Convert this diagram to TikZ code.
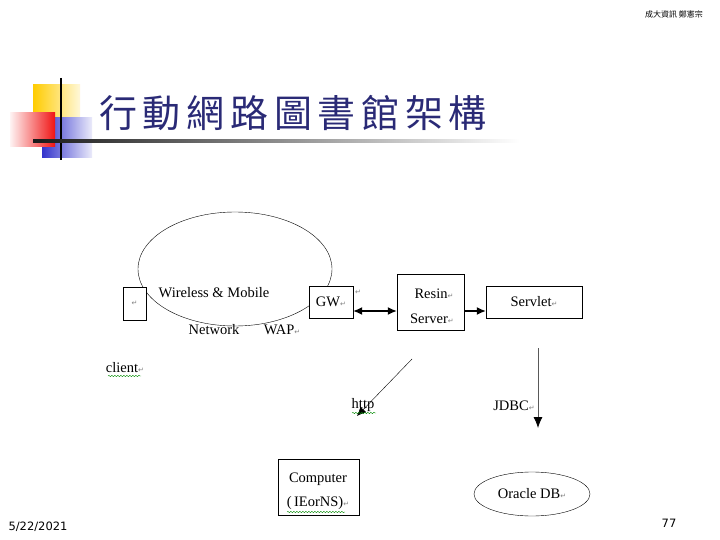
\documentclass[tikz,border=0pt]{standalone}
\usepackage{fontspec}
\usepackage{xcolor}
\setmainfont{Liberation Serif}
\newfontfamily\cjk{Noto Sans CJK TC}
\newfontfamily\cjktitle[LetterSpace=15]{Noto Sans CJK TC}
\newfontfamily\djv{DejaVu Sans}
\usetikzlibrary{positioning,shapes,arrows,arrows.meta,decorations.pathmorphing}
\definecolor{titleblue}{RGB}{42,42,118}
\definecolor{ylw}{RGB}{255,204,0}
\definecolor{blu}{RGB}{51,51,204}
\definecolor{rd}{RGB}{240,20,20}
\newcommand{\ret}{{\djv\fontsize{7}{7}\selectfont\textcolor{gray}{↵}}}

\begin{document}
\begin{tikzpicture}[x=1pt,y=-1pt,
    box/.style={draw,fill=white,inner sep=0},
    txt/.style={font=\fontsize{14.5}{16}\selectfont,inner sep=0},
    head/.style={-{Latex[length=9pt,width=8pt]}},
    wavy/.style={draw=green!55!black,decorate,decoration={snake,amplitude=0.7pt,segment length=3pt}}]
    \useasboundingbox[fill=white] (0,0) rectangle (720,540);

    % Slide decoration
    \shade[left color=ylw,right color=ylw!15] (33,85) rectangle (80,118);
    \shade[left color=blu,right color=blu!10] (42,118) rectangle (92,158);
    \shade[left color=rd!5,right color=rd] (10,113) rectangle (55,147);
    \draw[line width=2.5pt] (61,78) -- (61,160);
    \shade[left color=black!90,right color=white] (33,139.8) rectangle (520,142.2);
    \node[anchor=west,inner sep=0,text=titleblue,font=\cjktitle\fontsize{38}{40}\selectfont] (title) at (99,113) {行動網路圖書館架構};
    \node[inner sep=0,font=\cjk\fontsize{8}{8}\selectfont] (author) at (674,14) {成大資訊 鄭憲宗};

    % Wireless network
    \node[draw,ellipse,minimum width=194pt,minimum height=114pt,inner sep=0] (net) at (235,269) {};
    \node[box,minimum width=23pt,minimum height=33pt] (client) at (134.5,303.5) {\ret};
    \node[box,minimum width=44pt,minimum height=32pt,txt] (gw) at (331,302) {GW\ret};
    \node[txt] (gwret) at (358,292) {\ret};
    \node[txt] (wireless) at (214,293) {Wireless \& Mobile};
    \node[txt] (network) at (214,330) {Network};
    \node[txt] (wap) at (282,330) {WAP\ret};
    \node[txt] (clientlbl) at (125,368) {client\ret};
    \draw[wavy] (108,376) -- (141,376);

    % Server side
    \node[box,minimum width=67pt,minimum height=56pt] (resin) at (430.5,302) {};
    \node[txt] (resin1) at (434,294) {Resin\ret};
    \node[txt] (resin2) at (432,319) {Server\ret};
    \node[box,minimum width=96pt,minimum height=32pt,txt] (servlet) at (534,302) {Servlet\ret};
    \draw[{Latex[length=9pt,width=8pt]}-{Latex[length=9pt,width=8pt]},line width=1.3pt] ([yshift=-9pt]gw.east) -- ([yshift=-9pt]resin.west);
    \draw[head,line width=1.3pt] ([yshift=-9pt]resin.east) -- ([yshift=-9pt]servlet.west);

    % Lower part
    \coordinate (httpstart) at (412,359);
    \coordinate (httpend) at (357,416);
    \draw[head] (httpstart) -- (httpend);
    \node[txt] (http) at (363,405) {http};
    \draw[wavy] (352,413) -- (376,413);
    \coordinate (jdbcstart) at (538,348);
    \coordinate (jdbcend) at (538,428);
    \draw[-{Latex[length=11pt,width=9pt,black]},thick,draw=black!65] (jdbcstart) -- (jdbcend);
    \node[txt] (jdbc) at (514,406) {JDBC\ret};
    \node[box,minimum width=81pt,minimum height=56pt] (computer) at (318.5,487) {};
    \node[txt] (comp1) at (318,479) {Computer};
    \node[txt] (comp2) at (318,503) {(\,IEorNS)\ret};
    \draw[wavy] (287,512) -- (345,512);
    \node[draw,ellipse,minimum width=116pt,minimum height=44pt,txt] (oracle) at (532,494) {Oracle DB\ret};

    % Footer
    \node[inner sep=0,font=\djv\fontsize{11.5}{12}\selectfont] (date) at (38,527) {5/22/2021};
    \node[inner sep=0,font=\djv\fontsize{11.5}{12}\selectfont] (page) at (669,523) {77};
\end{tikzpicture}
\end{document}
